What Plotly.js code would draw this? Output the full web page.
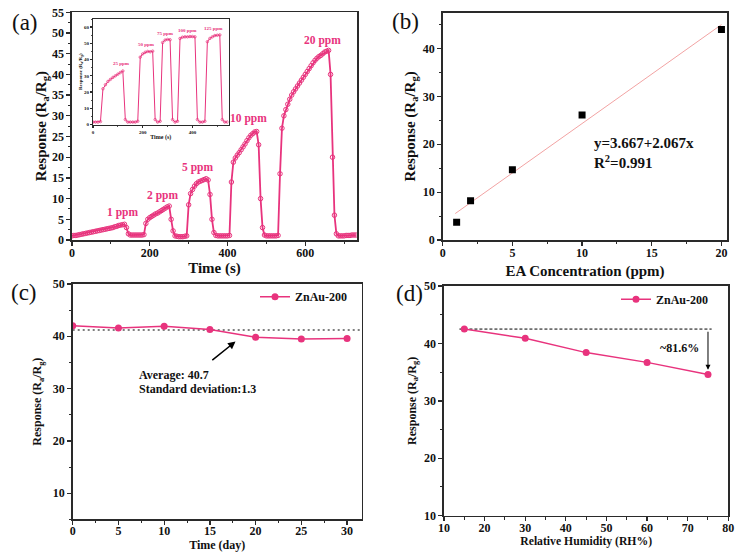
<!DOCTYPE html>
<html>
<head>
<meta charset="utf-8">
<script src="https://cdn.plot.ly/plotly-3.0.1.min.js"></script>
<style>html,body{margin:0;padding:0;background:#fff;}</style>
</head>
<body>
<div id="chart" style="width:743px;height:558px;"></div>
<script>
// ---------- DATA ----------
// (a) main response transient, 1-20 ppm
const timeA = [0,5,10,15,20,25,30,35,40,45,50,55,60,65,70,75,80,85,90,95,100,105,110,115,120,125,130,135,140,145,150,155,160,165,170,175,180,185,190,195,200,205,210,215,220,225,230,235,240,245,250,255,260,265,270,275,280,285,290,295,300,305,310,315,320,325,330,335,340,345,350,355,360,365,370,375,380,385,390,395,400,405,410,415,420,425,430,435,440,445,450,455,460,465,470,475,480,485,490,495,500,505,510,515,520,525,530,535,540,545,550,555,560,565,570,575,580,585,590,595,600,605,610,615,620,625,630,635,640,645,650,655,660,665,670,675,680,685,690,695,700,705,710,715,720,725,730];
const respA = [1.0,1.1,1.1,1.2,1.3,1.4,1.5,1.6,1.7,1.8,1.9,2.0,2.1,2.2,2.3,2.4,2.5,2.6,2.7,2.8,2.9,3.0,3.2,3.3,3.5,3.6,3.7,3.8,3.0,1.5,1.2,1.2,1.2,1.2,1.2,1.2,1.2,1.3,4.0,5.0,5.4,5.7,6.0,6.3,6.5,6.8,7.1,7.4,7.7,8.0,8.2,5.0,2.2,1.0,0.9,0.8,0.8,0.8,0.9,1.0,8.5,11.2,12.2,13.0,13.6,14.0,14.2,14.4,14.6,14.8,14.5,11.0,5.0,1.8,1.1,1.0,1.0,1.0,1.0,1.0,1.0,1.1,14.0,18.8,19.8,20.5,21.1,21.8,22.5,23.2,24.0,24.7,25.3,25.7,26.1,26.2,23.0,10.0,3.0,1.2,1.0,1.0,1.0,1.0,1.0,1.0,1.1,16.0,27.0,30.0,31.5,32.8,34.0,35.0,35.8,36.5,37.2,37.9,38.6,39.3,40.0,40.7,41.4,42.1,42.8,43.4,43.9,44.3,44.6,45.0,45.4,45.6,45.8,40.0,20.0,6.0,1.5,1.0,1.0,1.0,1.0,1.1,1.1,1.1,1.2,1.2,1.2];
const labelsA = ['1 ppm','2 ppm','5 ppm','10 ppm','20 ppm'];
const labelXA = [129,232,322,455,643];
const labelYA = [6.7,10.8,17.6,29.3,48.3];

// (a) inset: 25-125 ppm
const timeIn = [0,10,20,30,40,50,60,70,80,90,100,110,120,130,140,150,160,170,180,190,200,210,220,230,240,250,260,270,280,290,300,310,320,330,340,350,360,370,380,390,400,410,420,430,440,450,460,470,480,490,500,510,520,530,540];
const respIn = [1.5,1.5,1.5,1.8,22.0,24.5,26.5,27.8,29.0,30.0,31.0,32.0,33.0,3.0,1.5,1.5,1.5,1.5,2.0,41.5,43.5,44.5,45.0,44.8,45.2,3.0,1.5,2.0,50.5,52.0,52.4,52.2,3.0,1.5,2.0,53.0,53.8,54.0,54.0,54.2,54.2,54.0,3.0,1.5,1.5,2.0,51.0,53.0,54.0,54.8,55.0,55.2,3.0,1.5,1.5];
const labelsIn = ['25 ppm','50 ppm','75 ppm','100 ppm','125 ppm'];
const labelXIn = [114,215,292,379,484];
const labelYIn = [37.4,49.3,55.9,58.0,59.0];

// (b) calibration
const concB = [1,2,5,10,20];
const respB = [3.7,8.2,14.7,26.1,44.0];
const fitIntercept = 3.667, fitSlope = 2.067;
const fitXB = [0.9,20];

// (c) long-term stability
const dayC = [0,5,10,15,20,25,30];
const respC = [42.0,41.6,41.9,41.3,39.8,39.5,39.6];
const avgLineXC = [0,31.6];
const avgLineYC = [41.2,41.2];

// (d) humidity
const rhD = [15,30,45,60,75];
const respD = [42.5,40.9,38.4,36.7,34.6];
const refLineXD = [13.8,75.9];
const refLineYD = [42.5,42.5];

// ---------- STYLE ----------
const FONT = 'Liberation Serif, Times New Roman, serif';
const PINK = '#E8337D';
const AX = '#2a2a2a';

function axis(extra){
  return Object.assign({
    showline:true, mirror:true, linecolor:AX, linewidth:1.6,
    ticks:'outside', ticklen:4, tickwidth:1.3, tickcolor:AX,
    showgrid:false, zeroline:false,
    tickfont:{family:FONT, size:12, color:'#111', weight:'bold'},
    minor:{ticks:'outside', ticklen:2.5, tickwidth:1, tickcolor:AX}
  }, extra);
}
function title(text, size, standoff){
  return {text:text, font:{family:FONT, size:size, color:'#111', weight:'bold'}, standoff:standoff};
}
const MIN = (d)=>({dtick:d, ticks:'outside', ticklen:2.5, tickwidth:1, tickcolor:AX});

const fitYB = fitXB.map(x => fitIntercept + fitSlope*x);

const traces = [
  {x:timeA, y:respA, xaxis:'x', yaxis:'y', mode:'lines+markers', showlegend:false,
   line:{color:PINK, width:1.8}, marker:{symbol:'circle-open', size:4.5, color:PINK, line:{width:1, color:PINK}}},
  {x:timeIn, y:respIn, xaxis:'x2', yaxis:'y2', mode:'lines+markers', showlegend:false,
   line:{color:PINK, width:1}, marker:{symbol:'circle-open', size:2.5, color:PINK, line:{width:0.7, color:PINK}}},
  {x:fitXB, y:fitYB, xaxis:'x3', yaxis:'y3', mode:'lines', showlegend:false,
   line:{color:'#F2A3A3', width:1}},
  {x:concB, y:respB, xaxis:'x3', yaxis:'y3', mode:'markers', showlegend:false,
   marker:{symbol:'square', size:7, color:'#000'}},
  {x:avgLineXC, y:avgLineYC, xaxis:'x4', yaxis:'y4', mode:'lines', showlegend:false,
   line:{color:'#000', width:1.2, dash:'2px,3px'}},
  {x:dayC, y:respC, xaxis:'x4', yaxis:'y4', mode:'lines+markers', name:'ZnAu-200', legend:'legend',
   line:{color:PINK, width:1.5}, marker:{symbol:'circle', size:7, color:PINK}},
  {x:refLineXD, y:refLineYD, xaxis:'x5', yaxis:'y5', mode:'lines', showlegend:false,
   line:{color:'#000', width:1, dash:'3px,2px'}},
  {x:rhD, y:respD, xaxis:'x5', yaxis:'y5', mode:'lines+markers', name:'ZnAu-200', legend:'legend2',
   line:{color:PINK, width:1.5}, marker:{symbol:'circle', size:7, color:PINK}}
];

const annotations = [];
function panelLabel(t, px, py){
  annotations.push({text:t, xref:'paper', yref:'paper', x:px/743, y:1-py/558, showarrow:false,
    xanchor:'center', yanchor:'middle', font:{family:FONT, size:23, color:'#111'}});
}
panelLabel('(a)',24.5,22); panelLabel('(b)',406,21.5); panelLabel('(c)',24,292); panelLabel('(d)',409,293);

labelsA.forEach((t,i)=>annotations.push({text:t, xref:'x', yref:'y', x:labelXA[i], y:labelYA[i], showarrow:false,
  font:{family:FONT, size:11.5, color:PINK, weight:'bold'}}));
labelsIn.forEach((t,i)=>annotations.push({text:t, xref:'x2', yref:'y2', x:labelXIn[i], y:labelYIn[i], showarrow:false,
  font:{family:FONT, size:5, color:PINK, weight:'bold'}}));

annotations.push({text:'y=3.667+2.067x', xref:'x3', yref:'y3', x:10.7, y:20.2, xanchor:'left', showarrow:false,
  font:{family:FONT, size:15, color:'#111', weight:'bold'}});
annotations.push({text:'R<sup>2</sup>=0.991', xref:'x3', yref:'y3', x:10.7, y:16.2, xanchor:'left', showarrow:false,
  font:{family:FONT, size:15, color:'#111', weight:'bold'}});

annotations.push({text:'Average: 40.7', xref:'x4', yref:'y4', x:7.0, y:32.6, xanchor:'left', showarrow:false,
  font:{family:FONT, size:12, color:'#111', weight:'bold'}});
annotations.push({text:'Standard deviation:1.3', xref:'x4', yref:'y4', x:7.0, y:29.9, xanchor:'left', showarrow:false,
  font:{family:FONT, size:12, color:'#111', weight:'bold'}});
annotations.push({text:'', xref:'x4', yref:'y4', x:17.8, y:39.0, axref:'x4', ayref:'y4', ax:15.1, ay:35.2,
  showarrow:true, arrowhead:2, arrowsize:1, arrowwidth:1.5, arrowcolor:'#000'});

annotations.push({text:'~81.6%', xref:'x5', yref:'y5', x:67.9, y:39.2, showarrow:false,
  font:{family:FONT, size:12, color:'#111', weight:'bold'}});
annotations.push({text:'', xref:'x5', yref:'y5', x:75, y:35.4, axref:'x5', ayref:'y5', ax:75, ay:42.3,
  showarrow:true, arrowhead:2, arrowsize:1, arrowwidth:1, arrowcolor:'#000'});

const legendStyle = {font:{family:FONT, size:12, color:'#111', weight:'bold'}, bgcolor:'rgba(0,0,0,0)',
  itemwidth:30, xanchor:'left', yanchor:'middle', tracegroupgap:0};

const layout = {
  width:743, height:558, margin:{l:0,r:0,t:0,b:0},
  paper_bgcolor:'#fff', plot_bgcolor:'#fff',
  showlegend:true,
  legend:Object.assign({x:255/743, y:1-296.7/558}, legendStyle),
  legend2:Object.assign({x:616/743, y:1-299.3/558}, legendStyle),
  // (a) main
  xaxis:axis({domain:[72/743,357/743], anchor:'y', range:[0,733], dtick:200, tick0:0, ticklabelstandoff:-3,
    minor:MIN(100), title:title('Time (s)',15,1)}),
  yaxis:axis({domain:[1-240/558,1-12.3/558], anchor:'x', range:[0,55], dtick:5, tick0:0,
    minor:MIN(2.5), title:title('Response (R<sub>a</sub>/R<sub>g</sub>)',15,2)}),
  // inset
  xaxis2:axis({domain:[93/743,228.5/743], anchor:'y2', range:[0,545], dtick:200, tick0:0, ticklen:2, linewidth:1,
    tickfont:{family:FONT, size:5, color:'#111', weight:'bold'},
    minor:{dtick:100, ticks:'outside', ticklen:1.2, tickwidth:0.8, tickcolor:AX},
    title:title('Time (s)',6,1)}),
  yaxis2:axis({domain:[1-124.5/558,1-19/558], anchor:'x2', range:[0,65], dtick:10, tick0:0, ticklen:2, linewidth:1,
    tickfont:{family:FONT, size:5, color:'#111', weight:'bold'},
    minor:{dtick:5, ticks:'outside', ticklen:1.2, tickwidth:0.8, tickcolor:AX},
    title:title('Response (R<sub>a</sub>/R<sub>g</sub>)',5,1)}),
  // (b)
  xaxis3:axis({domain:[442.7/743,727.3/743], anchor:'y3', range:[0,20.42], dtick:5, tick0:0, ticklabelstandoff:-3,
    minor:MIN(2.5), title:title('EA Concentration (ppm)',15,6)}),
  yaxis3:axis({domain:[1-240/558,1-12.7/558], anchor:'x3', range:[0,47.5], dtick:10, tick0:0,
    minor:MIN(5), title:title('Response (R<sub>a</sub>/R<sub>g</sub>)',15,3)}),
  // (c)
  xaxis4:axis({domain:[72.7/743,361.7/743], anchor:'y4', range:[0,31.6], dtick:5, tick0:0, ticklabelstandoff:-4,
    minor:MIN(2.5), title:title('Time (day)',12,1)}),
  yaxis4:axis({domain:[1-519.3/558,1-284/558], anchor:'x4', range:[5,50], dtick:10, tick0:0,
    minor:MIN(5), title:title('Response (R<sub>a</sub>/R<sub>g</sub>)',12,8)}),
  // (d)
  xaxis5:axis({domain:[444/743,728.3/743], anchor:'y5', range:[10,80], dtick:10, tick0:0, ticklabelstandoff:-4,
    minor:MIN(5), title:title('Relative Humidity (RH%)',11.7,1)}),
  yaxis5:axis({domain:[1-515.7/558,1-286/558], anchor:'x5', range:[10,50], dtick:10, tick0:0,
    minor:MIN(5), title:title('Response (R<sub>a</sub>/R<sub>g</sub>)',12,5)}),
  annotations:annotations
};

Plotly.newPlot('chart', traces, layout, {displayModeBar:false, staticPlot:true});
</script>
</body>
</html>
